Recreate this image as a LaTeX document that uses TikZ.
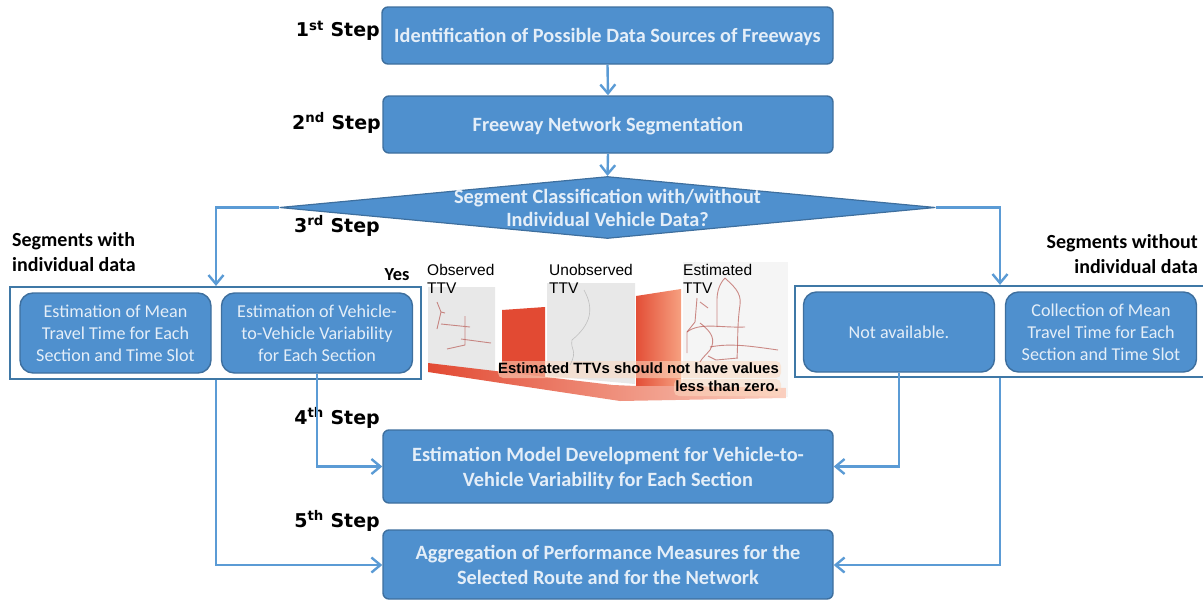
\documentclass[tikz,border=0pt]{standalone}
\usepackage{fontspec}
\setmainfont{Carlito}
\newfontfamily\stepfont{DejaVu Sans}
\newfontfamily\capfont{Liberation Sans}
\usetikzlibrary{arrows.meta,shapes.geometric,calc}
\definecolor{boxfill}{HTML}{4F90CE}
\definecolor{boxedge}{HTML}{3E6F9E}
\definecolor{linkc}{HTML}{5B9BD5}
\definecolor{frame}{HTML}{3F78A6}
\definecolor{boxtext}{HTML}{E4EEF8}
\definecolor{road}{HTML}{B5504A}
\definecolor{panel}{HTML}{E8E8E8}
\definecolor{hotred}{HTML}{E24A33}
\definecolor{warm}{HTML}{F6A080}
\definecolor{glow}{HTML}{FBD9C0}
\newcommand{\lowered}[1]{\raisebox{-2pt}[\height][\depth]{\begin{tabular}{@{}c@{}}#1\end{tabular}}}
\tikzset{
 x=1pt,y=-1pt,
 flow/.style={draw=boxedge,line width=1.4pt,fill=boxfill,rounded corners=6pt,text=boxtext,align=center,font=\fontsize{20.3}{25}\selectfont\bfseries,inner sep=0pt},
 sub/.style={draw=boxedge,line width=1.4pt,fill=boxfill,rounded corners=13pt,text=boxtext,align=center,font=\fontsize{18.1}{22}\selectfont,inner sep=0pt,minimum width=191pt,minimum height=80pt},
 container/.style={draw=frame,line width=2.2pt,inner sep=0pt},
 link/.style={draw=linkc,line width=2.4pt,-{Straight Barb[length=9pt,width=15pt,line width=2.4pt]}},
 steplab/.style={font=\stepfont\fontsize{19}{22}\selectfont\bfseries,inner sep=0pt,anchor=east},
 seglab/.style={font=\fontsize{20}{25}\selectfont\bfseries,inner sep=0pt},
 ttv/.style={font=\capfont\fontsize{15.5}{18}\selectfont,align=left,anchor=north west,inner sep=0pt},
 roadline/.style={draw=road,line width=.9pt,opacity=.65},
 faint/.style={draw=gray!50,line width=.6pt},
}
\begin{document}
\begin{tikzpicture}
\useasboundingbox (0,0) rectangle (1203,600);
% main flow
\node[flow,minimum width=451pt,minimum height=57pt] (s1) at (607.5,35.5) {\lowered{Identification of Possible Data Sources of Freeways}};
\node[flow,minimum width=450pt,minimum height=57pt] (s2) at (608,124.5) {\lowered{Freeway Network Segmentation}};
\node[draw=boxedge,line width=1.2pt,fill=boxfill,diamond,aspect=11.6,inner sep=0pt,minimum width=656pt,minimum height=62pt] (d) at (607.5,207.5) {};
\node[text=boxtext,align=center,font=\fontsize{20.3}{23}\selectfont\bfseries] (dt) at (607.5,208) {Segment Classification with/without\\Individual Vehicle Data?};
\node[flow,minimum width=450pt,minimum height=73pt] (s4) at (608,466.5) {\lowered{Estimation Model Development for Vehicle-to-\\Vehicle Variability for Each Section}};
\node[flow,minimum width=450pt,minimum height=69pt] (s5) at (608,564.5) {Aggregation of Performance Measures for the\\Selected Route and for the Network};
% containers
\node[container,minimum width=411pt,minimum height=92pt] (cl) at (215.5,333) {};
\node[container,minimum width=410pt,minimum height=91pt] (cr) at (1000,331.5) {};
\node[sub] (a) at (115.5,333) {Estimation of Mean\\Travel Time for Each\\Section and Time Slot};
\node[sub] (b) at (317,333) {Estimation of Vehicle-\\to-Vehicle Variability\\for Each Section};
\node[sub] (c) at (899,332) {Not available.};
\node[sub] (e) at (1101,332) {Collection of Mean\\Travel Time for Each\\Section and Time Slot};
% step labels
\node[steplab] (l1) at (380,31) {1\textsuperscript{st} Step};
\node[steplab] (l2) at (381,123) {2\textsuperscript{nd} Step};
\node[steplab] (l3) at (380,226) {3\textsuperscript{rd} Step};
\node[steplab] (l4) at (380,418) {4\textsuperscript{th} Step};
\node[steplab] (l5) at (380,521) {5\textsuperscript{th} Step};
\node[seglab,align=left,anchor=north west] (sl) at (12,232) {Segments with\\individual data};
\node[seglab,align=right,anchor=north east] (sr) at (1198,234) {Segments without\\individual data};
\node[seglab,font=\fontsize{18.4}{20}\selectfont\bfseries,anchor=center] (yes) at (397,275) {Yes};
% connectors
\draw[link] (s1.south) -- (s2.north);
\draw[link] (s2.south) -- (d.north);
\coordinate (tl) at (216,207.5);
\coordinate (tr) at (1000,207.5);
\draw[link] (d.west) -- (tl) -- (tl|-cl.north);
\draw[link] (d.east) -- (tr) -- (tr|-cr.north);
\coordinate (al) at (216,565);
\coordinate (ar) at (1000,565);
\draw[link] (tl|-cl.south) -- (al) -- (al-|s5.west);
\draw[link] (tr|-cr.south) -- (ar) -- (ar-|s5.east);
\draw[link] (b.south) -- (b.south|-s4.west) -- (s4.west);
\draw[link] (c.south) -- (c.south|-s4.east) -- (s4.east);
% inset picture
\fill[white!96!black] (683,262) rectangle (788,397);
\fill[panel] (428,287) -- (495,287) -- (495,372) -- (428,363) -- cycle;
\fill[panel] (547,283) -- (635,283) -- (635,384) -- (547,376) -- cycle;
\fill[hotred] (502,310) -- (545,307) -- (545,378) -- (502,376) -- cycle;
\shade[left color=hotred!95!warm,right color=warm] (636,296) -- (681,289) -- (681,387) -- (636,387) -- cycle;
\shade[left color=hotred,middle color=hotred!85!warm,right color=warm!50!white] (428,363) -- (613,385) -- (636,386) -- (681,386) -- (786,388) -- (786,398) -- (620,401) -- (428,372) -- cycle;
\fill[glow,fill opacity=.55,rounded corners=5pt] (498,361) rectangle (781,378);
\fill[glow,fill opacity=.55,rounded corners=5pt] (674,379) rectangle (781,396);
% observed network
\draw[roadline] (437,302) -- (441,312) -- (445,313) (441,312) -- (437,329);
\draw[roadline] (441,324) -- (470,327) (465,316) -- (465,345) -- (447,349);
\draw[roadline] (461,339) -- (491,343);
% unobserved network
\draw[faint] (584,290) .. controls (595,310) and (590,325) .. (572,340) .. controls (570,350) and (578,350) .. (570,365);
% estimated network
\draw[roadline] (697,298) -- (695,322) -- (687,332) -- (687,353) (700,302) -- (708,308);
\draw[roadline] (725,278) .. controls (718,285) and (717,295) .. (717,300) -- (717,327);
\draw[roadline] (725,278) .. controls (732,285) and (742,292) .. (740,305) .. controls (737,325) and (738,345) .. (737,358);
\draw[roadline] (687,332) .. controls (700,322) and (720,328) .. (745,327);
\draw[roadline] (700,323) .. controls (712,332) and (716,340) .. (710,350) .. controls (706,355) and (702,358) .. (700,362);
\draw[roadline] (710,347) .. controls (730,343) and (750,346) .. (778,350);
\draw[roadline] (708,356) -- (716,360) -- (738,358);
% inset text
\node[ttv] (o) at (427,264) {Observed\\TTV};
\node[ttv] (u) at (549,264) {Unobserved\\TTV};
\node[ttv] (t) at (683,264) {Estimated\\TTV};
\node[font=\capfont\fontsize{14.9}{18}\selectfont\bfseries,align=right,anchor=north east,inner sep=0pt] (w) at (779,362) {Estimated TTVs should not have values\\less than zero.};
\end{tikzpicture}
\end{document}
